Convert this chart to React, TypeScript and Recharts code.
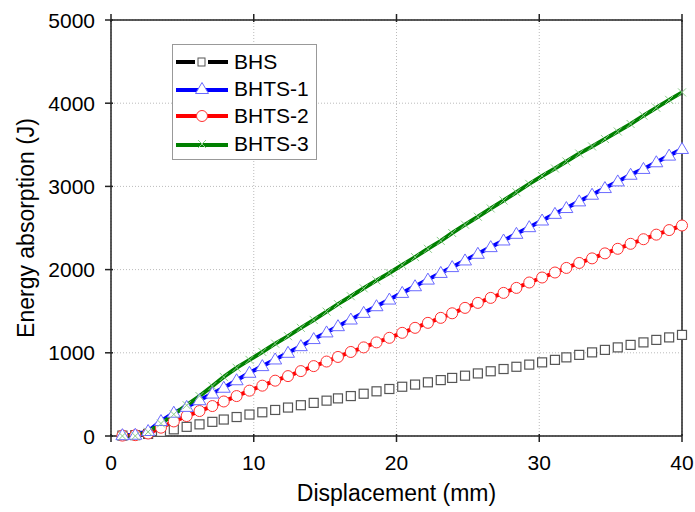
import React from "react";
import { LineChart, Line, XAxis, YAxis, CartesianGrid, Legend } from "recharts";

const FONT = "'Liberation Sans', Arial, sans-serif";

// displacement (mm) of the sampled points
const displacement = [
  0.8, 1.7, 2.6, 3.5, 4.4, 5.3, 6.2, 7.1, 7.9, 8.8, 9.7, 10.6, 11.5, 12.4, 13.3,
  14.2, 15.1, 15.9, 16.8, 17.7, 18.6, 19.5, 20.4, 21.3, 22.2, 23.1, 23.9, 24.8,
  25.7, 26.6, 27.5, 28.4, 29.3, 30.2, 31.1, 31.9, 32.8, 33.7, 34.6, 35.5, 36.4,
  37.3, 38.2, 39.1, 40.0,
];

// energy absorption (J)
const bhs = [
  5, 10, 25, 50, 80, 110, 140, 170, 198, 228, 258, 285, 313, 342, 370, 398, 425,
  452, 480, 508, 537, 565, 592, 618, 645, 672, 698, 725, 752, 778, 805, 832, 858,
  885, 915, 945, 975, 1005, 1035, 1065, 1095, 1125, 1155, 1185, 1215,
];
const bhts1 = [
  10, 15, 60, 180, 280, 350, 430, 510, 580, 670, 760, 840, 920, 1000, 1080, 1165,
  1245, 1320, 1400, 1480, 1560, 1640, 1720, 1800, 1880, 1960, 2030, 2110, 2190,
  2270, 2350, 2430, 2510, 2590, 2670, 2740, 2820, 2900, 2980, 3060, 3140, 3210,
  3290, 3370, 3450,
];
const bhts2 = [
  5, 10, 30, 100, 175, 240, 300, 360, 415, 480, 545, 605, 665, 720, 780, 840, 895,
  950, 1010, 1065, 1125, 1180, 1240, 1300, 1360, 1420, 1475, 1540, 1600, 1660,
  1720, 1780, 1845, 1905, 1965, 2020, 2080, 2135, 2195, 2250, 2310, 2365, 2420,
  2475, 2530,
];
const bhts3 = [
  0, 0, 50, 150, 260, 370, 480, 600, 710, 820, 915, 1010, 1110, 1200, 1300, 1395,
  1495, 1585, 1680, 1775, 1870, 1960, 2055, 2150, 2250, 2345, 2440, 2540, 2635,
  2735, 2830, 2930, 3030, 3125, 3215, 3300, 3395, 3480, 3570, 3660, 3750, 3850,
  3945, 4040, 4130,
];

const xTicks = [0, 10, 20, 30, 40];
const yTicks = [0, 1000, 2000, 3000, 4000, 5000];
const seriesNames = ["BHS", "BHTS-1", "BHTS-2", "BHTS-3"];

const data = displacement.map((x, i) => ({
  x,
  bhs: bhs[i],
  bhts1: bhts1[i],
  bhts2: bhts2[i],
  bhts3: bhts3[i],
}));

const AXIS = "#222";

function SquareMark({ cx, cy }: any) {
  return <rect x={cx - 4.5} y={cy - 4.5} width={9} height={9} fill="#fff" stroke="#555" strokeWidth={1.2} />;
}
function TriangleMark({ cx, cy }: any) {
  return (
    <polygon
      points={`${cx},${cy - 6.5} ${cx - 6.5},${cy + 4.5} ${cx + 6.5},${cy + 4.5}`}
      fill="#fff"
      stroke="#6a6aff"
      strokeWidth={1}
    />
  );
}
function CircleMark({ cx, cy }: any) {
  return <circle cx={cx} cy={cy} r={5.5} fill="#fff" stroke="#ff3030" strokeWidth={1} />;
}
function CrossMark({ cx, cy }: any) {
  return (
    <g stroke="#8acb8a" strokeWidth={1}>
      <line x1={cx - 4} y1={cy - 4} x2={cx + 4} y2={cy + 4} />
      <line x1={cx - 4} y1={cy + 4} x2={cx + 4} y2={cy - 4} />
    </g>
  );
}

const dot = (Mark: any) => (p: any) =>
  p.cx == null ? <g key={`e${p.index}`} /> : <Mark key={`m${p.index}`} cx={p.cx} cy={p.cy} />;

function BottomTick({ x, y, payload }: any) {
  return (
    <g>
      <line x1={x} x2={x} y1={y} y2={y - 8} stroke={AXIS} strokeWidth={1.5} />
      <text x={x} y={y + 28} textAnchor="middle" fontSize={21} fontFamily={FONT} fill="#000">
        {payload.value}
      </text>
    </g>
  );
}
function TopTick({ x, y }: any) {
  return <line x1={x} x2={x} y1={y} y2={y + 8} stroke={AXIS} strokeWidth={1.5} />;
}
function LeftTick({ x, y, payload }: any) {
  return (
    <g>
      <line x1={x} x2={x + 8} y1={y} y2={y} stroke={AXIS} strokeWidth={1.5} />
      <text x={x - 10} y={y + 7.5} textAnchor="end" fontSize={21} fontFamily={FONT} fill="#000">
        {payload.value}
      </text>
    </g>
  );
}

function XTitle(props: any) {
  const vb = props.viewBox;
  return (
    <text x={vb.x + vb.width / 2} y={vb.y + 65} textAnchor="middle" fontSize={23} fontFamily={FONT} fill="#000">
      Displacement (mm)
    </text>
  );
}
function YTitle(props: any) {
  const vb = props.viewBox;
  const cx = vb.x + 26;
  const cy = vb.y + vb.height / 2;
  return (
    <text
      x={cx}
      y={cy}
      transform={`rotate(-90 ${cx} ${cy})`}
      textAnchor="middle"
      dominantBaseline="central"
      fontSize={23}
      fontFamily={FONT}
      fill="#000"
    >
      Energy absorption (J)
    </text>
  );
}

function LegendSample({ name }: { name: string }) {
  if (name === "BHS")
    return (
      <svg width={54} height={14}>
        <line x1={1} x2={20} y1={7} y2={7} stroke="#000" strokeWidth={4} />
        <line x1={33} x2={53} y1={7} y2={7} stroke="#000" strokeWidth={4} />
        <rect x={23} y={3} width={7} height={8} fill="#fff" stroke="#555" strokeWidth={1} />
      </svg>
    );
  if (name === "BHTS-1")
    return (
      <svg width={54} height={14}>
        <line x1={1} x2={53} y1={8} y2={8} stroke="#0000ff" strokeWidth={4} />
        <TriangleMark cx={27} cy={7} />
      </svg>
    );
  if (name === "BHTS-2")
    return (
      <svg width={54} height={14}>
        <line x1={1} x2={53} y1={7} y2={7} stroke="#ff0000" strokeWidth={4} />
        <CircleMark cx={27} cy={7} />
      </svg>
    );
  return (
    <svg width={54} height={14}>
      <line x1={1} x2={53} y1={8} y2={8} stroke="#008000" strokeWidth={4} />
      <CrossMark cx={27} cy={7} />
    </svg>
  );
}

function LegendBox() {
  return (
    <div
      style={{
        width: 143,
        height: 111,
        border: "1px solid #999",
        background: "#fff",
        boxSizing: "content-box",
        paddingTop: 3,
        fontFamily: FONT,
      }}
    >
      {seriesNames.map((n) => (
        <div key={n} style={{ display: "flex", alignItems: "center", height: 27.3, paddingLeft: 2 }}>
          <LegendSample name={n} />
          <span style={{ marginLeft: 5, fontSize: 21, color: "#000" }}>{n}</span>
        </div>
      ))}
    </div>
  );
}

export default function App() {
  return (
    <div style={{ position: "absolute", left: 0, top: 0, width: 695, height: 512, background: "#fff" }}>
      <LineChart width={695} height={512} data={data} margin={{ top: 0, right: 0, bottom: 0, left: 0 }}>
        <CartesianGrid stroke="#bbb" strokeDasharray="1 2" strokeWidth={1} />
        <XAxis
          dataKey="x"
          type="number"
          domain={[0, 40]}
          ticks={xTicks}
          height={76}
          tickLine={false}
          tickMargin={0}
          tick={<BottomTick />}
          axisLine={{ stroke: AXIS, strokeWidth: 1.5 }}
          label={XTitle}
        />
        <XAxis
          xAxisId="top"
          orientation="top"
          dataKey="x"
          type="number"
          domain={[0, 40]}
          ticks={xTicks}
          height={20}
          tickLine={false}
          tickMargin={0}
          tick={<TopTick />}
          axisLine={{ stroke: AXIS, strokeWidth: 1.5 }}
        />
        <YAxis
          type="number"
          domain={[0, 5000]}
          ticks={yTicks}
          width={111}
          tickLine={false}
          tickMargin={0}
          tick={<LeftTick />}
          axisLine={{ stroke: AXIS, strokeWidth: 1.5 }}
          label={YTitle}
        />
        <YAxis
          yAxisId="right"
          orientation="right"
          type="number"
          domain={[0, 5000]}
          ticks={yTicks}
          width={13}
          tick={false}
          tickLine={false}
          axisLine={{ stroke: AXIS, strokeWidth: 1.5 }}
        />
        <Legend
          layout="vertical"
          align="center"
          verticalAlign="middle"
          content={<LegendBox />}
          wrapperStyle={{ left: 172, top: 44, width: 145, height: 115 }}
        />
        <Line
          dataKey="bhs"
          name={seriesNames[0]}
          stroke="none"
          strokeWidth={0}
          dot={dot(SquareMark)}
          activeDot={false}
          isAnimationActive={false}
        />
        <Line
          dataKey="bhts2"
          name={seriesNames[2]}
          stroke="#ff0000"
          strokeWidth={4}
          dot={dot(CircleMark)}
          activeDot={false}
          isAnimationActive={false}
        />
        <Line
          dataKey="bhts1"
          name={seriesNames[1]}
          stroke="#0000ff"
          strokeWidth={4}
          dot={dot(TriangleMark)}
          activeDot={false}
          isAnimationActive={false}
        />
        <Line
          dataKey="bhts3"
          name={seriesNames[3]}
          stroke="#008000"
          strokeWidth={4}
          dot={dot(CrossMark)}
          activeDot={false}
          isAnimationActive={false}
        />
      </LineChart>
    </div>
  );
}
